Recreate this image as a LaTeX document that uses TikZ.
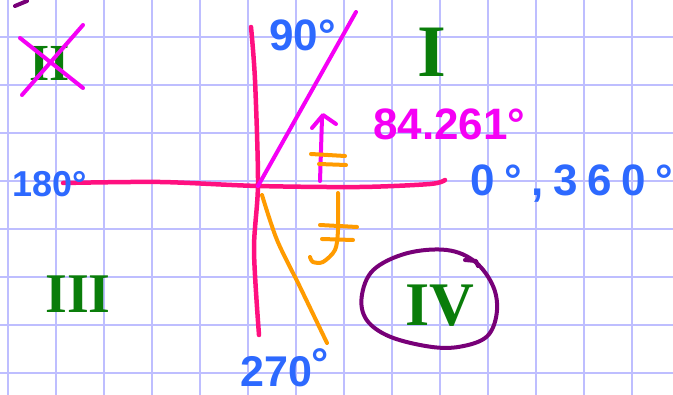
\documentclass[tikz,border=0pt]{standalone}
\usepackage{fontspec}
\setmainfont{Liberation Sans}
\newfontfamily\numfont{Liberation Sans}
\newfontfamily\numwide[LetterSpace=22]{Liberation Sans}
\newfontfamily\romfont{Liberation Serif}
\definecolor{gridc}{RGB}{190,190,255}
\definecolor{axispink}{RGB}{255,16,128}
\definecolor{termmag}{RGB}{245,0,245}
\definecolor{handblue}{RGB}{45,105,255}
\definecolor{handgreen}{RGB}{10,125,10}
\definecolor{handorange}{RGB}{255,155,0}
\definecolor{handpurple}{RGB}{120,0,120}
\begin{document}
\begin{tikzpicture}[x=1pt,y=-1pt,line cap=round,line join=round,
  gridline/.style={draw=gridc,line width=2pt,line cap=butt},
  axisline/.style={draw=axispink,line width=4.5pt},
  magline/.style={draw=termmag,line width=4pt},
  orangeline/.style={draw=handorange,line width=4pt},
  purpleline/.style={draw=handpurple,line width=4pt},
  bluelbl/.style={inner sep=0pt,anchor=base west,text=handblue},
  maglbl/.style={inner sep=0pt,anchor=base west,text=termmag},
  romlbl/.style={inner sep=0pt,anchor=base,text=handgreen,font=\romfont\bfseries}]
\clip (0,0) rectangle (673,395);
\fill[white] (0,0) rectangle (673,395);
% grid paper
\foreach \k in {0,...,13} \draw[gridline] (7.5+48*\k,0) -- (7.5+48*\k,395);
\foreach \k in {0,...,7} \draw[gridline] (0,37.5+48*\k) -- (673,37.5+48*\k);
% axes
\draw[axisline] plot[smooth] coordinates {(251,27) (255,80) (258,183) (254,250) (259,335)};
\draw[axisline] plot[smooth] coordinates {(63,183) (160,182) (258,186) (360,187) (430,184) (445,180)};
\coordinate (O) at (258,186);
\coordinate (T) at (356,12);
% terminal side (magenta)
\draw[magline] (O) -- (T);
% rotation arrow
\draw[magline] plot[smooth] coordinates {(320,181) (321,150) (322,118)};
\draw[magline] (312,128) -- (323,115) -- (336,124);
% orange marks
\draw[orangeline] (311,154) -- (345,156);
\draw[orangeline] (319,164) -- (346,165);
\draw[orangeline] plot[smooth] coordinates {(338,193) (338,230) (335,250) (323,262) (313,262) (310,257)};
\draw[orangeline] (320,225) -- (357,227);
\draw[orangeline] (322,239) -- (353,240);
\draw[orangeline] plot[smooth] coordinates {(262,195) (277,240) (300,287) (327,343)};
% purple loop around IV
\draw[purpleline] plot[smooth cycle,tension=0.6] coordinates {(446.7,250) (475,261.7) (493.3,286.7) (496.7,313.3) (486.7,336.7) (460,346.7) (430,346.7) (390,336.7) (366.7,320) (361.7,296.7) (373.3,270) (406.7,253.3)};
\draw[purpleline] (465,260) -- (476,261) -- (478,266);
\draw[purpleline] (15,6) -- (27,1);
% labels
\node[bluelbl] (l90) at (269,51) {\numfont\bfseries\fontsize{44}{50}\selectfont 90°};
\node[bluelbl] (l180) at (12,197) {\numfont\bfseries\fontsize{36}{42}\selectfont 180°};
\node[bluelbl] (l0) at (470,196) {\numwide\bfseries\fontsize{44}{50}\selectfont 0°,360°};
\node[bluelbl] (l270) at (240,387) {\numfont\bfseries\fontsize{43}{50}\selectfont 270\raisebox{8pt}{°}};
\node[maglbl] (lang) at (373,140) {\numfont\bfseries\fontsize{44}{50}\selectfont 84.261°};
% quadrant numerals
\node[romlbl] (q1) at (432,77) {\fontsize{74}{80}\selectfont I};
\node[romlbl] (q2) at (50,81) {\fontsize{52}{60}\selectfont II};
\node[romlbl] (q3) at (78,313) {\fontsize{56}{64}\selectfont III};
\node[romlbl] (q4) at (440,326) {\fontsize{62}{70}\selectfont IV};
% cross over II
\draw[magline] (20,38) -- (83,88);
\draw[magline] (22,95) -- (83,25);
\end{tikzpicture}
\end{document}
